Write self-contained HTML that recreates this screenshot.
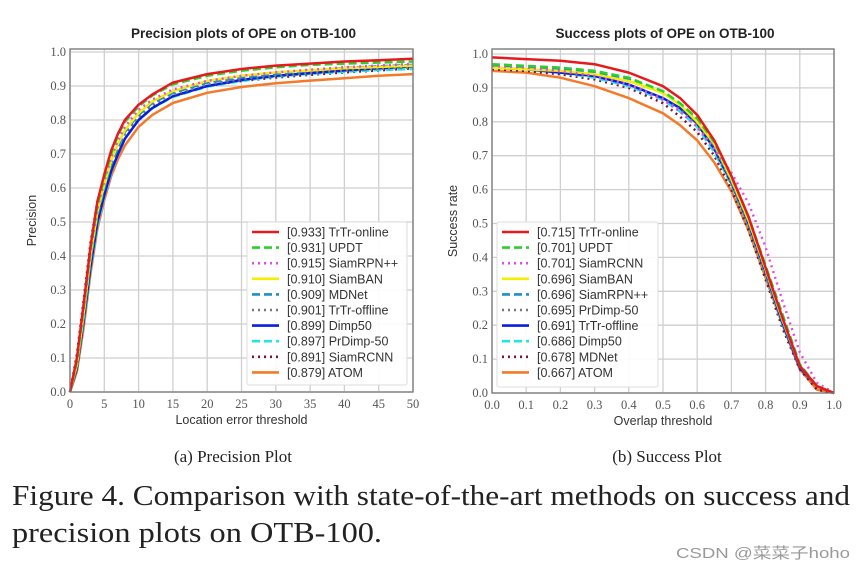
<!DOCTYPE html>
<html><head><meta charset="utf-8"><style>
html,body{margin:0;padding:0;background:#fff;}
svg{display:block;font-family:"Liberation Sans","DejaVu Sans",sans-serif;}
</style></head><body>
<svg id="fig" width="865" height="571" viewBox="0 0 865 571" xmlns="http://www.w3.org/2000/svg">
<g id="pl"></g>
<g id="sl"></g>
<text x="233" y="462" text-anchor="middle" font-family="Liberation Serif, serif" font-size="17" fill="#222">(a) Precision Plot</text>
<text x="667" y="462" text-anchor="middle" font-family="Liberation Serif, serif" font-size="17" fill="#222">(b) Success Plot</text>
<text x="12" y="505" font-family="Liberation Serif, serif" font-size="28" fill="#222" textLength="838" lengthAdjust="spacingAndGlyphs">Figure 4. Comparison with state-of-the-art methods on success and</text>
<text x="12" y="542" font-family="Liberation Serif, serif" font-size="28" fill="#222" textLength="370" lengthAdjust="spacingAndGlyphs">precision plots on OTB-100.</text>
<text x="676" y="558" font-family="Liberation Sans, Noto Sans CJK SC, sans-serif" font-size="15" fill="#999" textLength="174" lengthAdjust="spacingAndGlyphs">CSDN @菜菜子hoho</text>
</svg>
<script>
// ---- Precision plot data ----
const precX = [0,1,2,3,4,5,6,7,8,10,12,15,20,25,30,35,40,45,50];
const precNames = ["[0.933] TrTr-online","[0.931] UPDT","[0.915] SiamRPN++","[0.910] SiamBAN","[0.909] MDNet","[0.901] TrTr-offline","[0.899] Dimp50","[0.897] PrDimp-50","[0.891] SiamRCNN","[0.879] ATOM"];
const precTrTrOn = [0,0.10,0.26,0.43,0.56,0.64,0.71,0.76,0.80,0.845,0.875,0.91,0.935,0.95,0.96,0.966,0.972,0.976,0.98];
const precUPDT   = [0,0.09,0.25,0.42,0.55,0.63,0.70,0.755,0.795,0.84,0.872,0.905,0.93,0.945,0.955,0.962,0.966,0.969,0.972];
const precRPN    = [0,0.09,0.24,0.41,0.54,0.62,0.69,0.74,0.78,0.83,0.86,0.89,0.915,0.93,0.94,0.948,0.955,0.96,0.965];
const precBAN    = [0,0.08,0.23,0.40,0.53,0.61,0.68,0.73,0.77,0.82,0.855,0.885,0.915,0.93,0.94,0.946,0.952,0.956,0.96];
const precMDNet  = [0,0.08,0.22,0.39,0.52,0.60,0.67,0.72,0.765,0.815,0.85,0.88,0.91,0.925,0.935,0.945,0.953,0.958,0.962];
const precTrOff  = [0,0.09,0.25,0.42,0.54,0.61,0.67,0.72,0.76,0.81,0.845,0.875,0.905,0.92,0.93,0.938,0.945,0.95,0.955];
const precDimp   = [0,0.07,0.21,0.37,0.50,0.58,0.65,0.70,0.745,0.80,0.835,0.87,0.9,0.918,0.93,0.938,0.946,0.952,0.958];
const precPrDimp = [0,0.07,0.20,0.36,0.49,0.575,0.645,0.70,0.745,0.80,0.835,0.868,0.898,0.915,0.928,0.936,0.942,0.947,0.95];
const precRCNN   = [0,0.11,0.27,0.44,0.56,0.62,0.68,0.72,0.76,0.805,0.84,0.87,0.9,0.915,0.925,0.933,0.94,0.946,0.952];
const precATOM   = [0,0.06,0.19,0.35,0.48,0.565,0.635,0.685,0.725,0.78,0.815,0.85,0.88,0.897,0.908,0.916,0.923,0.93,0.935];
const precTicksX = [0,5,10,15,20,25,30,35,40,45,50];
const ticksY = [0,0.1,0.2,0.3,0.4,0.5,0.6,0.7,0.8,0.9,1.0];

// ---- Success plot data ----
const succX = [0,0.1,0.2,0.3,0.4,0.5,0.55,0.6,0.65,0.7,0.75,0.8,0.85,0.9,0.95,1.0];
const succNames = ["[0.715] TrTr-online","[0.701] UPDT","[0.701] SiamRCNN","[0.696] SiamBAN","[0.696] SiamRPN++","[0.695] PrDimp-50","[0.691] TrTr-offline","[0.686] Dimp50","[0.678] MDNet","[0.667] ATOM"];
const succTrTrOn = [0.99,0.985,0.98,0.97,0.945,0.905,0.87,0.82,0.745,0.64,0.52,0.37,0.22,0.08,0.02,0];
const succUPDT   = [0.97,0.965,0.96,0.95,0.93,0.89,0.855,0.81,0.74,0.64,0.52,0.375,0.23,0.085,0.02,0];
const succSRCNN  = [0.965,0.96,0.95,0.935,0.91,0.865,0.83,0.785,0.72,0.65,0.56,0.43,0.27,0.12,0.03,0];
const succBAN    = [0.96,0.955,0.95,0.94,0.92,0.885,0.85,0.8,0.735,0.63,0.51,0.365,0.215,0.08,0.02,0];
const succRPN    = [0.965,0.96,0.955,0.945,0.925,0.885,0.85,0.805,0.73,0.625,0.505,0.36,0.21,0.08,0.02,0];
const succPrDimp = [0.965,0.958,0.948,0.935,0.91,0.87,0.835,0.79,0.72,0.62,0.5,0.355,0.21,0.08,0.02,0];
const succTrOff  = [0.96,0.955,0.945,0.935,0.91,0.87,0.84,0.795,0.72,0.62,0.5,0.355,0.205,0.075,0.02,0];
const succDimp   = [0.96,0.955,0.945,0.93,0.905,0.865,0.83,0.785,0.71,0.615,0.495,0.35,0.2,0.075,0.02,0];
const succMDNet  = [0.955,0.95,0.94,0.925,0.9,0.855,0.815,0.77,0.7,0.6,0.48,0.335,0.19,0.07,0.01,0];
const succATOM   = [0.95,0.945,0.93,0.905,0.87,0.825,0.79,0.745,0.68,0.595,0.48,0.34,0.2,0.07,0.01,0];
const succTicksX = [0,0.1,0.2,0.3,0.4,0.5,0.6,0.7,0.8,0.9,1.0];

const NS="http://www.w3.org/2000/svg";
function mk(tag,attrs,parent){const e=document.createElementNS(NS,tag);for(const k in attrs)e.setAttribute(k,attrs[k]);parent.appendChild(e);return e;}

const precStyles=[["#e8191d",""],["#2ccf2c","8 4"],["#e64be6","2 4"],["#f2f000",""],["#1f8fc8","8 4"],["#777","2 4"],["#0a1ee0",""],["#22e5e5","8 4"],["#7a1430","2 4"],["#f47a2a",""]];
const succStyles=[["#e8191d",""],["#2ccf2c","8 4"],["#e64be6","2 4"],["#f2f000",""],["#1f8fc8","8 4"],["#777","2 4"],["#0a1ee0",""],["#22e5e5","8 4"],["#7a1430","2 4"],["#f47a2a",""]];

function drawPlot(g,cfg){
  const {L,R,T,B,y1,xmax,xs,series,names,styles,xticks,fmtX,title,xlabel,ylabel,leg}=cfg;
  const sx=v=>L+(v/xmax)*(R-L);
  const sy=v=>B-(v)*(B-y1);
  mk('rect',{x:L,y:T,width:R-L,height:B-T,fill:'#fff',stroke:'#777','stroke-width':1.2},g);
  xticks.forEach(t=>{
    const ln=mk('line',{x1:sx(t),x2:sx(t),y1:T,y2:B,stroke:'#cfcfcf','stroke-width':1.3},g);
    
    
    const tx=mk('text',{x:sx(t),y:B+16,'text-anchor':'middle','font-size':12.5,'font-family':'Liberation Serif, serif',fill:'#555'},g);
    tx.textContent=fmtX(t);
    
    
  });
  ticksY.forEach(t=>{
    const ln=mk('line',{x1:L,x2:R,y1:sy(t),y2:sy(t),stroke:'#cfcfcf','stroke-width':1.3},g);
    
    
    const tx=mk('text',{x:L-4,y:sy(t)+4,'text-anchor':'end','font-size':12.5,'font-family':'Liberation Serif, serif',fill:'#555'},g);
    tx.textContent=t.toFixed(1);
    
    
  });
  for(let i=series.length-1;i>=0;i--){
    const d=series[i].map((v,j)=>(j?'L':'M')+sx(xs[j]).toFixed(1)+','+sy(v).toFixed(1)).join(' ');
    const p=mk('path',{d:d,fill:'none',stroke:styles[i][0],'stroke-width':2.5,'stroke-dasharray':styles[i][1],'stroke-linejoin':'round'},g);
    
    
  }
  mk('rect',{x:L,y:T,width:R-L,height:B-T,fill:'none',stroke:'#777','stroke-width':1.2},g);
  const lg=mk('g',{},g);
  
  
  mk('rect',{x:leg.x,y:leg.y,width:leg.w,height:leg.h,fill:'#fff','fill-opacity':0.9,stroke:'#ddd',rx:2},lg);
  names.forEach((n,i)=>{
    const yy=leg.y+10+i*15.6;
    const ln=mk('line',{x1:leg.x+5,x2:leg.x+32,y1:yy,y2:yy,stroke:styles[i][0],'stroke-width':2.6,'stroke-dasharray':styles[i][1]},lg);
    
    
    const tx=mk('text',{x:leg.x+40,y:yy+4.5,'font-size':12.5,fill:'#333'},lg);
    tx.textContent=n;
    
    
  });
  const tt=mk('text',{x:(L+R)/2+2,y:T-11,'text-anchor':'middle','font-size':13.5,'font-weight':'bold',fill:'#222'},g);
  tt.textContent=title;
  
  
  const xl=mk('text',{x:(L+R)/2,y:B+32,'text-anchor':'middle','font-size':12.5,fill:'#333'},g);
  xl.textContent=xlabel;
  
  
  const yl=mk('text',{x:0,y:0,'text-anchor':'middle','font-size':12.5,fill:'#333',transform:`translate(${cfg.ylx},${(T+B)/2}) rotate(-90)`},g);
  yl.textContent=ylabel;
  
  
}

drawPlot(document.getElementById('pl'),{L:70,R:413,T:49,B:392,y1:52,xmax:50,xs:precX,
  series:[precTrTrOn,precUPDT,precRPN,precBAN,precMDNet,precTrOff,precDimp,precPrDimp,precRCNN,precATOM],
  names:precNames,styles:precStyles,xticks:precTicksX,fmtX:t=>String(t),
  title:"Precision plots of OPE on OTB-100",xlabel:"Location error threshold",ylabel:"Precision",ylx:36,
  leg:{x:247,y:222,w:160,h:163}});
drawPlot(document.getElementById('sl'),{L:492,R:834,T:49,B:393,y1:54,xmax:1,xs:succX,
  series:[succTrTrOn,succUPDT,succSRCNN,succBAN,succRPN,succPrDimp,succTrOff,succDimp,succMDNet,succATOM],
  names:succNames,styles:succStyles,xticks:succTicksX,fmtX:t=>t.toFixed(1),
  title:"Success plots of OPE on OTB-100",xlabel:"Overlap threshold",ylabel:"Success rate",ylx:457,
  leg:{x:497,y:222,w:161,h:165}});
</script>
</body></html>
